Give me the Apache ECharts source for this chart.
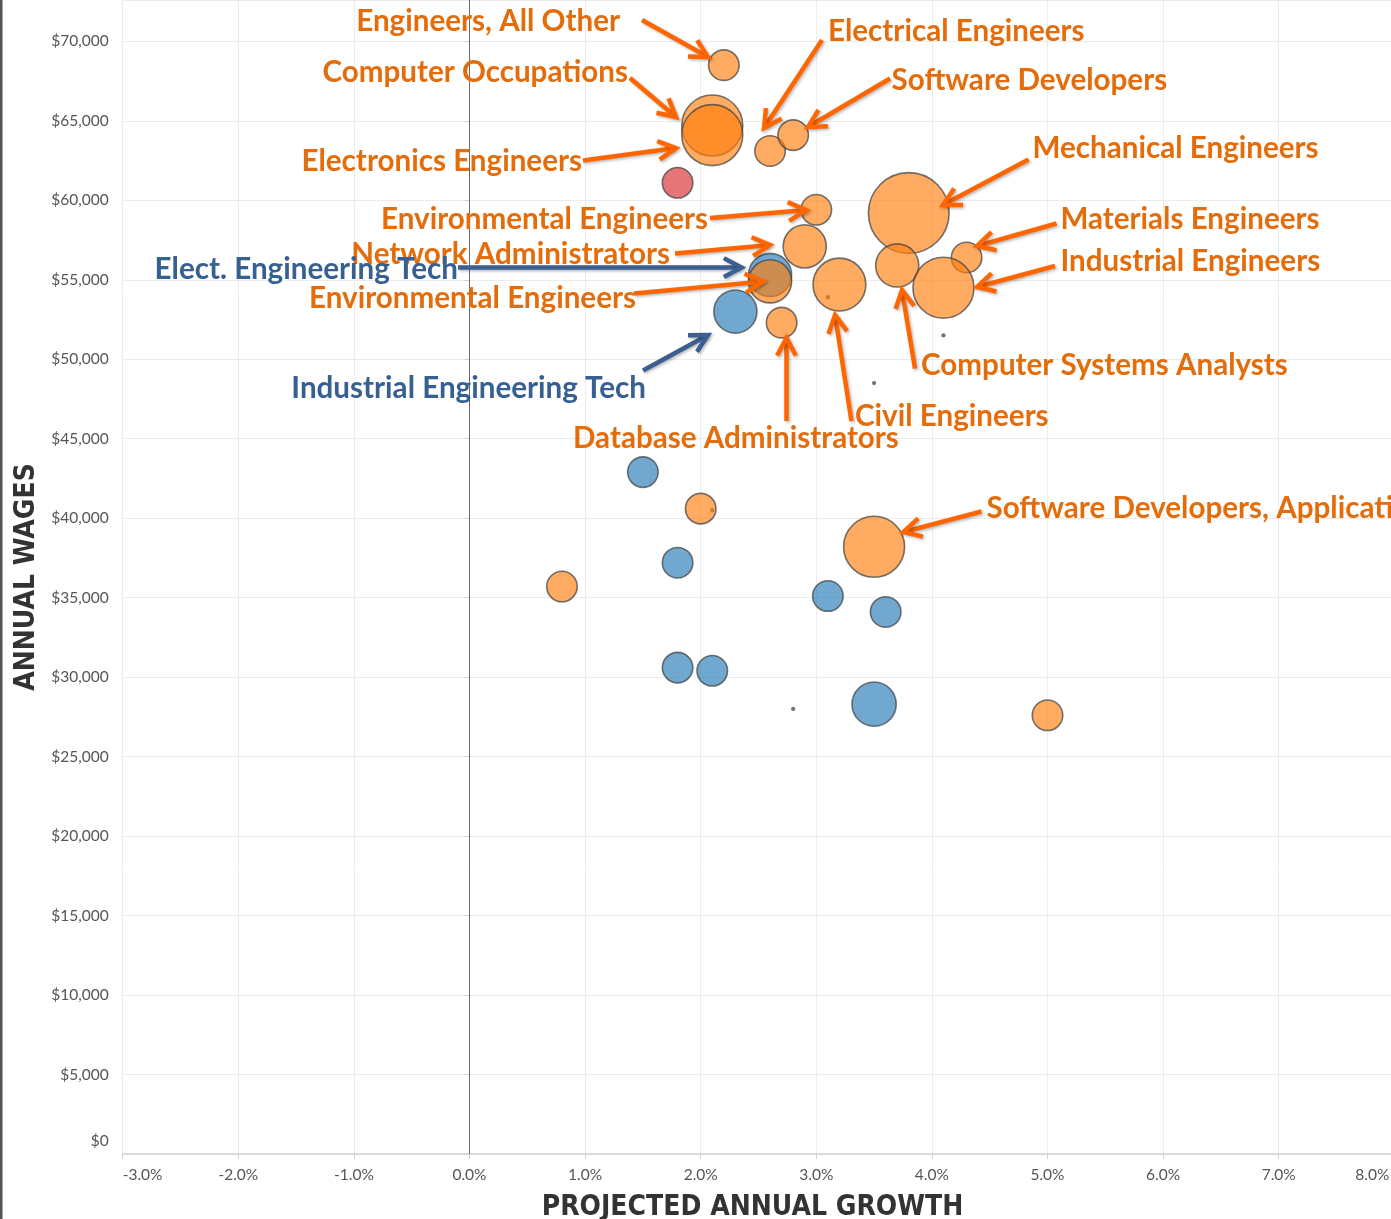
<!DOCTYPE html>
<html>
<head>
<meta charset="utf-8">
<script src="https://cdn.jsdelivr.net/npm/echarts@6/dist/echarts.min.js"></script>
<style>
html,body{margin:0;padding:0;background:#fff;}
#c{width:1391px;height:1219px;}
</style>
</head>
<body>
<div id="c"></div>
<script>
// ---------- data ----------
const names = [
  'Engineers, All Other', 'Computer Occupations', 'Electronics Engineers', 'Electrical Engineers',
  'Software Developers', '', 'Environmental Engineers', 'Network Administrators',
  'Mechanical Engineers', 'Materials Engineers', 'Computer Systems Analysts', 'Industrial Engineers',
  'Elect. Engineering Tech', 'Environmental Engineers', 'Civil Engineers', 'Industrial Engineering Tech',
  'Database Administrators', '', '', 'Software Developers, Applications',
  '', '', '', '', '', '', '', '',
  '', '', '', '', ''
];
const growth = [
  2.2, 2.1, 2.1, 2.6,
  2.8, 1.8, 3.0, 2.9,
  3.8, 4.3, 3.7, 4.1,
  2.6, 2.6, 3.2, 2.3,
  2.7, 1.5, 2.0, 3.5,
  1.8, 0.8, 3.1, 3.6, 1.8, 2.1, 3.5, 5.0,
  4.1, 3.5, 2.8, 3.1, 2.1
];
const wages = [
  68500, 64700, 64100, 63100,
  64100, 61100, 59400, 57100,
  59200, 56400, 55900, 54500,
  55300, 54900, 54700, 53000,
  52300, 42900, 40600, 38200,
  37200, 35700, 35100, 34100, 30600, 30400, 28300, 27600,
  51500, 48500, 28000, 53900, 40500
];
const employment = [
  100, 400, 400, 100,
  100, 100, 100, 200,
  700, 100, 200, 400,
  200, 200, 300, 200,
  100, 100, 100, 400,
  100, 100, 100, 100, 100, 100, 210, 100,
  2, 2, 2, 2, 2
];
const group = [
  'orange', 'orange', 'orange', 'orange',
  'orange', 'red', 'orange', 'orange',
  'orange', 'orange', 'orange', 'orange',
  'blue', 'orange', 'orange', 'blue',
  'orange', 'blue', 'orange', 'orange',
  'blue', 'orange', 'blue', 'blue', 'blue', 'blue', 'blue', 'orange',
  'dot', 'dot', 'dot', 'dot', 'dot'
];

// ---------- annotations (positions in data units: growth %, wage $) ----------
const annoPoint = [0, 1, 2, 3, 4, 8, 9, 11, 6, 7, 13, 16, 14, 10, 19, 12, 15];
const annoLabel = [
  [1.302, 71277], [1.371, 68068], [0.973, 62470], [3.101, 70604], [3.651, 67565],
  [4.870, 63256], [5.112, 58790], [5.112, 56179], [2.063, 58821], [1.734, 56619],
  [1.440, 53820], [0.895, 45013], [3.335, 46396], [3.906, 49636], [4.472, 40609],
  [-0.099, 55675], [1.527, 48158]
];
const annoAlign = [
  'right', 'right', 'right', 'left', 'left',
  'left', 'left', 'left', 'right', 'right',
  'right', 'left', 'left', 'left', 'left',
  'right', 'right'
];
const annoFrom = [
  [1.492, 71340], [1.388, 67691], [0.982, 62502], [3.049, 70082], [3.638, 67660],
  [4.836, 62564], [5.078, 58538], [5.065, 55864], [2.080, 58884], [1.778, 56651],
  [1.423, 54135], [2.742, 46113], [3.304, 46113], [3.854, 49416], [4.429, 40420],
  [-0.099, 55770], [1.501, 49291]
];
const annoTo = [
  [2.063, 69012], [1.786, 65237], [1.786, 63287], [2.548, 64546], [2.928, 64608],
  [4.096, 59701], [4.390, 57122], [4.390, 54543], [2.911, 59387], [2.599, 57185],
  [2.539, 54890], [2.742, 51335], [3.162, 52782], [3.741, 54354], [3.754, 39130],
  [2.353, 55770], [2.063, 51523]
];

// ---------- chart ----------
const chart = echarts.init(document.getElementById('c'), null, {renderer: 'canvas'});

const fills = {
  dot: '#4f4f4f',
  blue: 'rgba(31,119,180,0.8)',
  orange: 'rgba(255,127,14,0.82)',
  red: 'rgba(214,39,40,0.8)'
};
function pts(g) {
  const out = [];
  for (let i = 0; i < names.length; i++) {
    if (group[i] === g) out.push({name: names[i], value: [growth[i], wages[i], employment[i]]});
  }
  return out;
}
function sz(v) { return 3.05 * Math.sqrt(v[2]); }

function bubbleSeries(g, z) {
  return {
    type: 'scatter',
    name: g,
    data: pts(g),
    symbolSize: sz,
    z: z,
    itemStyle: g === 'dot'
      ? {color: fills.dot, borderWidth: 0}
      : {color: fills[g], borderColor: 'rgba(65,65,65,0.9)', borderWidth: 1.6},
    emphasis: {disabled: true}
  };
}

const series = [
  bubbleSeries('dot', 2),
  bubbleSeries('blue', 3),
  bubbleSeries('orange', 4),
  bubbleSeries('red', 5)
];
series[0].markLine = {
  silent: true,
  symbol: ['none', 'none'],
  label: {show: false},
  lineStyle: {color: '#6a6a6a', type: 'solid', width: 1},
  data: [{xAxis: 0}]
};

const tickFont = {fontFamily: 'Lato', fontSize: 15.5, color: '#555'};
const titleFont = {fontFamily: '"DejaVu Sans Condensed", "Liberation Sans Narrow", sans-serif', fontWeight: 'bold', fontSize: 28, color: '#333'};

chart.setOption({
  animation: false,
  backgroundColor: '#fff',
  grid: {left: 122.7, right: -3.3, top: 0, bottom: 65, containLabel: false, outerBoundsMode: 'none'},
  xAxis: {
    type: 'value',
    min: -3, max: 8, interval: 1,
    name: 'PROJECTED ANNUAL GROWTH',
    nameLocation: 'middle',
    nameGap: 40,
    nameTextStyle: Object.assign({padding: [0, 12, 0, 0]}, titleFont),
    axisLine: {show: true, lineStyle: {color: '#d9d9d9', width: 2}},
    axisTick: {show: true, length: 5, lineStyle: {color: '#d0d0d0'}},
    axisLabel: Object.assign({
      margin: 13,
      alignMinLabel: 'left',
      alignMaxLabel: 'right',
      formatter: v => v === 8 ? '{r|8.0%}' : v.toFixed(1) + '%',
      rich: {r: {fontFamily: 'Lato', fontSize: 15.5, color: '#555', padding: [0, 5, 0, 0]}}
    }, tickFont),
    splitLine: {show: true, lineStyle: {color: '#ececec', width: 1}}
  },
  yAxis: {
    type: 'value',
    min: 0, max: 72600, interval: 5000,
    name: 'ANNUAL WAGES',
    nameLocation: 'middle',
    nameGap: 82,
    nameTextStyle: titleFont,
    axisLine: {show: false},
    axisTick: {show: true, length: 5, lineStyle: {color: '#d0d0d0'}},
    axisLabel: Object.assign({
      margin: 14,
      showMaxLabel: false,
      verticalAlignMinLabel: 'bottom',
      formatter: v => v === 0 ? '{z|$0}' : '$' + v.toLocaleString('en-US'),
      rich: {z: {fontFamily: 'Lato', fontSize: 15.5, color: '#555', padding: [0, 0, 5, 0]}}
    }, tickFont),
    splitLine: {show: true, lineStyle: {color: '#ececec', width: 1}}
  },
  series: series
});

// ---------- annotation graphics ----------
function toPx(p) { return chart.convertToPixel({xAxisIndex: 0, yAxisIndex: 0}, p); }
const textColors = {orange: '#E46C0A', blue: '#376092'};
const arrowColors = {orange: '#FF6600', blue: '#3A5F90'};
const shadow = {shadowBlur: 3, shadowOffsetX: 1.5, shadowOffsetY: 1.5, shadowColor: 'rgba(0,0,0,0.28)'};

const els = [];
const order = [];
annoPoint.forEach((p, i) => { if (group[p] !== 'blue') order.push(i); });
annoPoint.forEach((p, i) => { if (group[p] === 'blue') order.push(i); });

order.forEach(i => {
  const g = group[annoPoint[i]] === 'blue' ? 'blue' : 'orange';
  const p0 = toPx(annoFrom[i]);
  const p1 = toPx(annoTo[i]);
  const ang = Math.atan2(p1[1] - p0[1], p1[0] - p0[0]);
  const L = 20, A = 28 * Math.PI / 180;
  const a1 = [p1[0] - L * Math.cos(ang - A), p1[1] - L * Math.sin(ang - A)];
  const a2 = [p1[0] - L * Math.cos(ang + A), p1[1] - L * Math.sin(ang + A)];
  const tip = [p1[0] - 2 * Math.cos(ang), p1[1] - 2 * Math.sin(ang)];
  els.push({
    type: 'polyline', z: 100, silent: true,
    shape: {points: [p0, tip]},
    style: Object.assign({stroke: arrowColors[g], lineWidth: 4.5, fill: null, lineCap: 'butt'}, shadow)
  });
  els.push({
    type: 'polyline', z: 100, silent: true,
    shape: {points: [a1, p1, a2]},
    style: Object.assign({stroke: arrowColors[g], lineWidth: 4.5, fill: null, lineJoin: 'miter', lineCap: 'butt'}, shadow)
  });
  const lp = toPx(annoLabel[i]);
  els.push({
    type: 'text', z: 101, silent: true,
    x: lp[0], y: lp[1],
    style: {
      text: names[annoPoint[i]],
      fill: textColors[g],
      fontFamily: 'Lato', fontWeight: 'bold', fontSize: 29.6,
      align: annoAlign[i], verticalAlign: 'middle'
    }
  });
});
els.push({type: 'rect', z: 200, silent: true, shape: {x: 0, y: 0, width: 2.5, height: 1219}, style: {fill: '#555'}});

chart.setOption({graphic: {elements: els}});
</script>
</body>
</html>
